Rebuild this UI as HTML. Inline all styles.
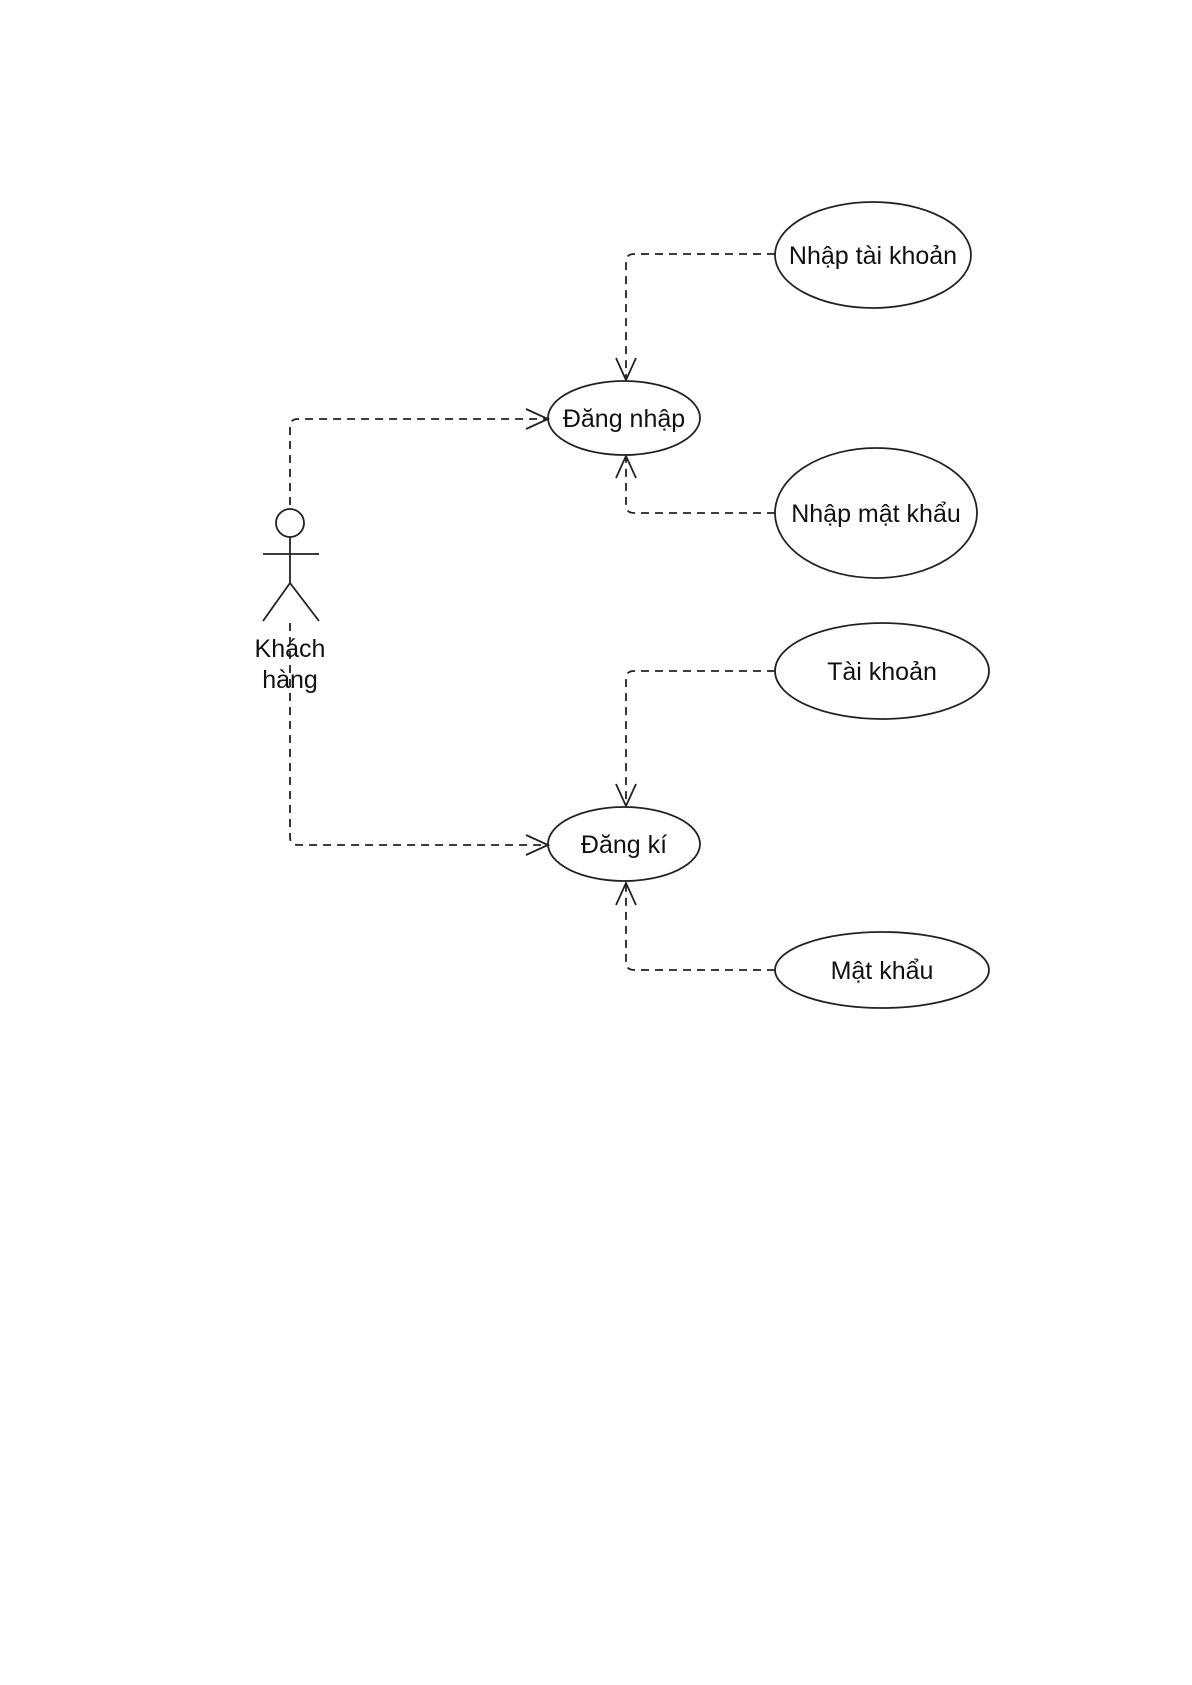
<!DOCTYPE html>
<html><head><meta charset="utf-8"><style>
html,body{margin:0;padding:0;background:#fff;}
svg{display:block;}
text{font-family:"Liberation Sans",Arial,sans-serif;font-size:25px;fill:#111;}
</style></head><body>
<svg width="1192" height="1685" viewBox="0 0 1192 1685" xmlns="http://www.w3.org/2000/svg">
<g fill="none" stroke="#222" stroke-width="1.8">
<g stroke-dasharray="8,6">
<path d="M290 505 V427 Q290 419 298 419 H546"/>
<path d="M290 623 V837 Q290 845 298 845 H546"/>
<path d="M775 254 H634 Q626 254 626 262 V379"/>
<path d="M775 513 H634 Q626 513 626 505 V457"/>
<path d="M775 671 H634 Q626 671 626 679 V805"/>
<path d="M775 970 H634 Q626 970 626 962 V884"/>
</g>
<path d="M526 409 L548 419 L526 429"/>
<path d="M526 835 L548 845 L526 855"/>
<path d="M616 358 L626 380 L636 358"/>
<path d="M616 478 L626 456 L636 478"/>
<path d="M616 784 L626 806 L636 784"/>
<path d="M616 905 L626 883 L636 905"/>
<ellipse cx="873" cy="255" rx="98" ry="53"/>
<ellipse cx="624" cy="418" rx="76" ry="37"/>
<ellipse cx="876" cy="513" rx="101" ry="65"/>
<ellipse cx="882" cy="671" rx="107" ry="48"/>
<ellipse cx="624" cy="844" rx="76" ry="37"/>
<ellipse cx="882" cy="970" rx="107" ry="38"/>
<circle cx="290" cy="523" r="14"/>
<path d="M290 537 V583 M263 554 H319 M263 621 L290 583 L319 621"/>
</g>
<g text-anchor="middle">
<text x="873" y="264">Nhập tài khoản</text>
<text x="624" y="427">Đăng nhập</text>
<text x="876" y="522">Nhập mật khẩu</text>
<text x="882" y="680">Tài khoản</text>
<text x="624" y="853">Đăng kí</text>
<text x="882" y="979">Mật khẩu</text>
<text x="290" y="657">Khách</text>
<text x="290" y="688">hàng</text>
</g>
</svg>
</body></html>
